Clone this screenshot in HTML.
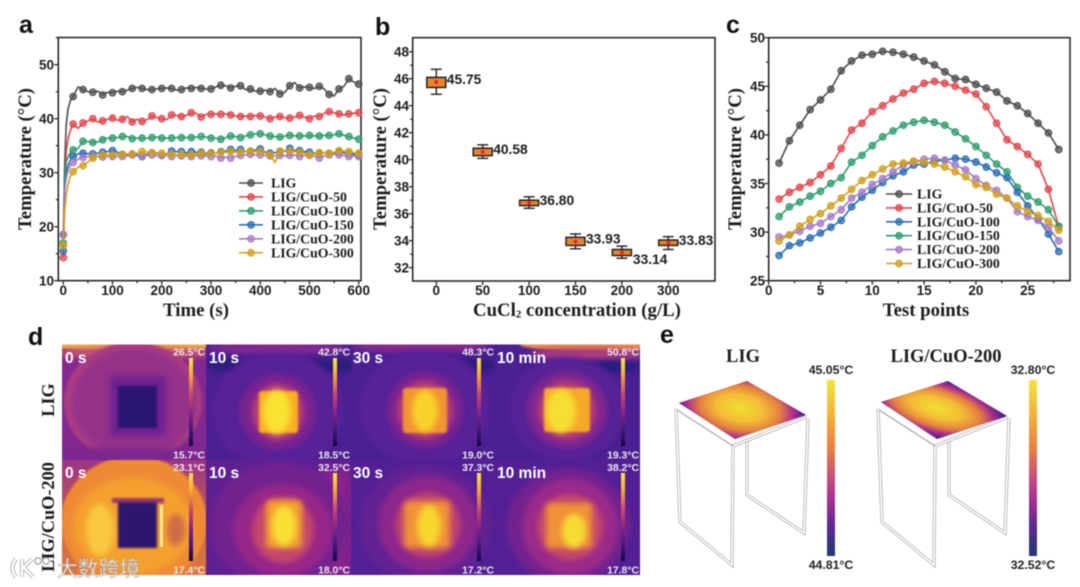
<!DOCTYPE html>
<html lang="en">
<head>
<meta charset="utf-8">
<title>Thermal performance of LIG and LIG/CuO heaters</title>
<style>
html,body{margin:0;padding:0;background:#fff;width:1080px;height:587px;overflow:hidden}
svg{display:block;filter:blur(0.5px)}
.serif{font-family:"Liberation Serif",serif;font-weight:bold;fill:#1c1c1c}
.sans{font-family:"Liberation Sans",sans-serif;font-weight:bold;fill:#1c1c1c}
.letter{font-family:"Liberation Sans",sans-serif;font-weight:bold;font-size:25px;fill:#111}
.time{font-family:"Liberation Sans",sans-serif;font-weight:bold;font-size:15.5px;fill:#fff}
.scale{font-family:"Liberation Sans",sans-serif;font-weight:bold;font-size:10.4px;fill:#efe6ee;text-anchor:end}
.bar-e{font-family:"Liberation Sans",sans-serif;font-size:12.3px;fill:#222;text-anchor:middle;font-weight:bold}
.frame-o{fill:none;stroke:#8c8c8c;stroke-width:3}
.frame-i{fill:none;stroke:#fff;stroke-width:1.9}
</style>
</head>
<body>
<svg id="fig" xmlns="http://www.w3.org/2000/svg" width="1080" height="587" viewBox="0 0 1080 587">
<defs>
<filter id="b1" x="-30%" y="-30%" width="160%" height="160%"><feGaussianBlur stdDeviation="1"/></filter>
<filter id="b3" x="-40%" y="-40%" width="180%" height="180%"><feGaussianBlur stdDeviation="3"/></filter>
<filter id="b6" x="-50%" y="-50%" width="200%" height="200%"><feGaussianBlur stdDeviation="6"/></filter>
<linearGradient id="inferno" x1="0" y1="0" x2="0" y2="1">
<stop offset="0" stop-color="#f8ea48"/><stop offset=".2" stop-color="#f5a734"/><stop offset=".42" stop-color="#c9486a"/><stop offset=".62" stop-color="#8a2484"/><stop offset=".82" stop-color="#41187a"/><stop offset="1" stop-color="#120b40"/>
</linearGradient>
<linearGradient id="plasma" x1="0" y1="0" x2="0" y2="1">
<stop offset="0" stop-color="#eee63c"/><stop offset=".2" stop-color="#f4b23a"/><stop offset=".38" stop-color="#e9813f"/><stop offset=".55" stop-color="#c8507a"/><stop offset=".68" stop-color="#a42f94"/><stop offset=".85" stop-color="#552a90"/><stop offset="1" stop-color="#1c3a6e"/>
</linearGradient>
<radialGradient id="heat">
<stop offset="0" stop-color="#efe030"/><stop offset=".36" stop-color="#f3bd36"/><stop offset=".62" stop-color="#e5803f"/><stop offset=".82" stop-color="#a92d8e"/><stop offset="1" stop-color="#4a1f8a"/>
</radialGradient>
<linearGradient id="cell5bg" x1="0" y1="0" x2="0" y2="1">
<stop offset="0" stop-color="#9a3486"/><stop offset=".55" stop-color="#c8604c"/><stop offset="1" stop-color="#dd7a3c"/>
</linearGradient>
<clipPath id="c1"><rect x="62" y="344.5" width="144" height="115.5"/></clipPath>
<clipPath id="c2"><rect x="206" y="344.5" width="145.5" height="115.5"/></clipPath>
<clipPath id="c3"><rect x="351.5" y="344.5" width="143.5" height="115.5"/></clipPath>
<clipPath id="c4"><rect x="495" y="344.5" width="145" height="115.5"/></clipPath>
<clipPath id="c5"><rect x="62" y="460" width="144" height="115"/></clipPath>
<clipPath id="c6"><rect x="206" y="460" width="145.5" height="115"/></clipPath>
<clipPath id="c7"><rect x="351.5" y="460" width="143.5" height="115"/></clipPath>
<clipPath id="c8"><rect x="495" y="460" width="145" height="115"/></clipPath>
<clipPath id="plate1"><polygon points="679,403 747,381 806,415 735,439"/></clipPath>
<clipPath id="plate2"><polygon points="881,402 948,381 1007,416 937,439"/></clipPath>
</defs>

<text class="letter" x="19" y="33">a</text>
<text class="letter" x="375" y="35">b</text>
<text class="letter" x="726" y="33">c</text>
<text class="letter" x="28" y="345">d</text>
<text class="letter" x="660" y="343">e</text>

<g id="panelA"></g>
<g id="panelB"></g>
<g id="panelC"></g>

<g>
<g clip-path="url(#c1)">
<rect x="62" y="344" width="144" height="116" fill="#83288e"/>
<ellipse cx="134" cy="345" rx="90" ry="6" fill="#f4b044" filter="url(#b1)"/>
<ellipse cx="134" cy="353" rx="80" ry="6" fill="#c4566e" filter="url(#b3)"/>
<ellipse cx="133" cy="402" rx="69" ry="60" fill="#aa3c82" filter="url(#b1)"/>
<ellipse cx="134" cy="403" rx="62" ry="54" fill="#94308a" filter="url(#b3)"/>
<rect x="110" y="376" width="56" height="60" fill="#6e2490" filter="url(#b3)"/>
<rect x="118" y="386" width="39" height="42" fill="#2c1670" filter="url(#b1)"/>
<rect x="62" y="448" width="144" height="14" fill="#7b2890" filter="url(#b3)"/>
</g>
<g clip-path="url(#c2)">
<rect x="206" y="344" width="146" height="116" fill="#4a2092"/>
<ellipse cx="225" cy="365" rx="18" ry="6" fill="#2a1a7c" filter="url(#b3)"/>
<ellipse cx="335" cy="366" rx="25" ry="7" fill="#2a1a7c" filter="url(#b3)"/>
<ellipse cx="278" cy="348" rx="70" ry="6" fill="#842a90" filter="url(#b3)"/>
<ellipse cx="278" cy="411" rx="66" ry="58" fill="#572096" filter="url(#b3)"/>
<ellipse cx="278" cy="412" rx="38" ry="38" fill="#7c248f" filter="url(#b3)"/>
<ellipse cx="278" cy="412" rx="26" ry="28" fill="#b83c74" filter="url(#b3)"/>
<rect x="259" y="391" width="39" height="42" rx="3" fill="#f8ae22" filter="url(#b1)"/>
<ellipse cx="277" cy="412" rx="14" ry="22" fill="#f8e232" filter="url(#b3)"/>
</g>
<g clip-path="url(#c3)">
<rect x="351" y="344" width="144" height="116" fill="#4a2092"/>
<ellipse cx="470" cy="366" rx="26" ry="7" fill="#2a1a7c" filter="url(#b3)"/>
<ellipse cx="420" cy="346" rx="70" ry="6" fill="#8c2a8c" filter="url(#b3)"/>
<ellipse cx="425" cy="408" rx="66" ry="58" fill="#572096" filter="url(#b3)"/>
<ellipse cx="425" cy="410" rx="38" ry="38" fill="#7c248f" filter="url(#b3)"/>
<ellipse cx="425" cy="410" rx="28" ry="29" fill="#b83c74" filter="url(#b3)"/>
<rect x="403" y="388" width="44" height="45" rx="3" fill="#f29432" filter="url(#b1)"/>
<ellipse cx="425" cy="411" rx="13" ry="21" fill="#f8d22a" filter="url(#b3)"/>
</g>
<g clip-path="url(#c4)">
<rect x="495" y="344" width="145" height="116" fill="#4a2092"/>
<ellipse cx="600" cy="345" rx="80" ry="6" fill="#ee8c48" filter="url(#b1)"/>
<ellipse cx="590" cy="354" rx="60" ry="6" fill="#b03c80" filter="url(#b3)"/>
<ellipse cx="610" cy="367" rx="30" ry="6" fill="#271a7c" filter="url(#b3)"/>
<ellipse cx="567" cy="409" rx="58" ry="52" fill="#572096" filter="url(#b3)"/>
<ellipse cx="567" cy="410" rx="40" ry="38" fill="#82268f" filter="url(#b3)"/>
<ellipse cx="567" cy="410" rx="29" ry="29" fill="#b83c74" filter="url(#b3)"/>
<rect x="544" y="388" width="46" height="44" rx="3" fill="#f6a82a" filter="url(#b1)"/>
<ellipse cx="561" cy="411" rx="15" ry="22" fill="#f6de30" filter="url(#b3)"/>
</g>
<g clip-path="url(#c5)">
<rect x="62" y="460" width="144" height="115" fill="url(#cell5bg)"/>
<ellipse cx="134" cy="522" rx="73" ry="66" fill="#ee8a34" filter="url(#b1)"/>
<ellipse cx="133" cy="526" rx="60" ry="48" fill="#f4a02e" filter="url(#b3)"/>
<ellipse cx="100" cy="530" rx="14" ry="26" fill="#f9c840" filter="url(#b3)"/>
<rect x="112" y="498" width="52" height="5" fill="#9c3a6a" filter="url(#b1)"/>
<rect x="118" y="502" width="39" height="46" fill="#2d1670" filter="url(#b1)"/>
<rect x="160" y="505" width="3" height="42" fill="#ffe98a"/>
<ellipse cx="176" cy="530" rx="9" ry="16" fill="#d06c4a" filter="url(#b3)"/>
</g>
<g clip-path="url(#c6)">
<rect x="206" y="460" width="146" height="115" fill="#5f2092"/>
<rect x="320" y="470" width="32" height="105" fill="#8c248c" filter="url(#b6)"/>
<ellipse cx="280" cy="525" rx="70" ry="62" fill="#72228f" filter="url(#b3)"/>
<ellipse cx="283" cy="530" rx="50" ry="46" fill="#962888" filter="url(#b3)"/>
<ellipse cx="283" cy="530" rx="31" ry="33" fill="#c4466c" filter="url(#b3)"/>
<rect x="266" y="500" width="36" height="48" rx="5" fill="#f4a02e" filter="url(#b3)"/>
<ellipse cx="284" cy="526" rx="12" ry="20" fill="#f8e034" filter="url(#b3)"/>
</g>
<g clip-path="url(#c7)">
<rect x="351" y="460" width="144" height="115" fill="#522094"/>
<ellipse cx="425" cy="525" rx="66" ry="60" fill="#622192" filter="url(#b3)"/>
<ellipse cx="428" cy="524" rx="50" ry="48" fill="#8c268c" filter="url(#b3)"/>
<ellipse cx="428" cy="525" rx="33" ry="33" fill="#bc4270" filter="url(#b3)"/>
<rect x="404" y="501" width="46" height="47" rx="4" fill="#f09238" filter="url(#b3)"/>
<ellipse cx="429" cy="526" rx="12" ry="21" fill="#f8d62e" filter="url(#b3)"/>
</g>
<g clip-path="url(#c8)">
<rect x="495" y="460" width="145" height="115" fill="#522094"/>
<ellipse cx="568" cy="526" rx="62" ry="58" fill="#72238f" filter="url(#b3)"/>
<ellipse cx="570" cy="527" rx="48" ry="48" fill="#9a2a8a" filter="url(#b3)"/>
<ellipse cx="570" cy="527" rx="33" ry="33" fill="#c4466c" filter="url(#b3)"/>
<rect x="546" y="503" width="46" height="45" rx="4" fill="#f09238" filter="url(#b3)"/>
<ellipse cx="574" cy="531" rx="12" ry="17" fill="#f6dc30" filter="url(#b3)"/>
</g>

<rect x="189" y="358" width="4" height="88" fill="url(#inferno)"/>
<rect x="333" y="358" width="4" height="88" fill="url(#inferno)"/>
<rect x="477" y="358" width="4" height="88" fill="url(#inferno)"/>
<rect x="621" y="358" width="4" height="88" fill="url(#inferno)"/>
<rect x="189" y="473" width="4" height="88" fill="url(#inferno)"/>
<rect x="333" y="473" width="4" height="88" fill="url(#inferno)"/>
<rect x="477" y="473" width="4" height="88" fill="url(#inferno)"/>
<rect x="621" y="473" width="4" height="88" fill="url(#inferno)"/>

<text class="time" x="65" y="363">0 s</text>
<text class="time" x="209" y="363">10 s</text>
<text class="time" x="353" y="363">30 s</text>
<text class="time" x="497" y="363">10 min</text>
<text class="time" x="65" y="478">0 s</text>
<text class="time" x="209" y="478">10 s</text>
<text class="time" x="353" y="478">30 s</text>
<text class="time" x="497" y="478">10 min</text>

<text class="scale" x="205" y="355.5">26.5°C</text>
<text class="scale" x="350" y="355.5">42.8°C</text>
<text class="scale" x="494" y="355.5">48.3°C</text>
<text class="scale" x="639" y="355.5">50.8°C</text>
<text class="scale" x="205" y="458.5">15.7°C</text>
<text class="scale" x="350" y="458.5">18.5°C</text>
<text class="scale" x="494" y="458.5">19.0°C</text>
<text class="scale" x="639" y="458.5">19.3°C</text>
<text class="scale" x="205" y="471">23.1°C</text>
<text class="scale" x="350" y="471">32.5°C</text>
<text class="scale" x="494" y="471">37.3°C</text>
<text class="scale" x="639" y="471">38.2°C</text>
<text class="scale" x="205" y="573.5">17.4°C</text>
<text class="scale" x="350" y="573.5">18.0°C</text>
<text class="scale" x="494" y="573.5">17.2°C</text>
<text class="scale" x="639" y="573.5">17.8°C</text>

<text class="serif" font-size="18.3" text-anchor="middle" transform="translate(54,400) rotate(-90)">LIG</text>
<text class="serif" font-size="18.3" text-anchor="middle" transform="translate(54,517) rotate(-90)">LIG/CuO-200</text>
</g>

<g>
<path d="M16 559 Q9 568 16 577 M22 559 L22 577 M22 569 L32 559 M24 568 L33 577" fill="none" stroke="#9a9a9a" stroke-width="4"/>
<path d="M16 559 Q9 568 16 577 M22 559 L22 577 M22 569 L32 559 M24 568 L33 577" fill="none" stroke="#fff" stroke-width="2.6"/>
<circle cx="38" cy="561" r="3.2" fill="none" stroke="#aaa" stroke-width="1.4"/>
<circle cx="46" cy="561" r="3.2" fill="none" stroke="#aaa" stroke-width="1.4"/>
<text x="57" y="576" font-size="20.8" font-family="'Liberation Sans','Noto Sans CJK SC',sans-serif" fill="#fff" fill-opacity=".88" stroke="#999" stroke-width=".5">大数跨境</text>
</g>

<g>
<text class="serif" font-size="18.5" x="743" y="362" text-anchor="middle">LIG</text>
<text class="serif" font-size="18.5" x="946" y="362" text-anchor="middle">LIG/CuO-200</text>
<g>
<polyline class="frame-o" points="747,440 747,495 804,533 808,418"/>
<polyline class="frame-i" points="747,440 747,495 804,533 808,418"/>
<polyline class="frame-o" points="676,408 680,522 732,565 733,446 806,417"/>
<polyline class="frame-i" points="676,408 680,522 732,565 733,446 806,417"/>
<polyline points="677,410 733,446" fill="none" stroke="#8c8c8c" stroke-width="1"/>
</g>
<g clip-path="url(#plate1)">
<rect x="670" y="375" width="145" height="70" fill="#44208a"/>
<ellipse cx="740" cy="408" rx="66" ry="36" transform="rotate(10 740 408)" fill="url(#heat)"/>
</g>
<g>
<polyline class="frame-o" points="949,440 949,495 1005,533 1009,418"/>
<polyline class="frame-i" points="949,440 949,495 1005,533 1009,418"/>
<polyline class="frame-o" points="878,408 882,522 934,565 935,446 1008,417"/>
<polyline class="frame-i" points="878,408 882,522 934,565 935,446 1008,417"/>
<polyline points="879,410 935,446" fill="none" stroke="#8c8c8c" stroke-width="1"/>
</g>
<g clip-path="url(#plate2)">
<rect x="872" y="375" width="145" height="70" fill="#44208a"/>
<ellipse cx="937" cy="408" rx="72" ry="29" transform="rotate(16 937 408)" fill="url(#heat)"/>
</g>
<rect x="827" y="380" width="8" height="176" fill="url(#plasma)"/>
<rect x="1029" y="380" width="8" height="176" fill="url(#plasma)"/>
<text class="bar-e" x="831" y="374">45.05°C</text>
<text class="bar-e" x="831" y="569">44.81°C</text>
<text class="bar-e" x="1033" y="374">32.80°C</text>
<text class="bar-e" x="1033" y="569">32.52°C</text>
</g>
</svg>

<script>
/* ---------- panel a data ---------- */
const timeA = [0,3,6,10,15,
  20,30,40,50,60,70,80,90,100,110,
  120,130,140,150,160,170,180,190,200,210,
  220,230,240,250,260,270,280,290,300,310,
  320,330,340,350,360,370,380,390,400,410,
  420,430,440,450,460,470,480,490,500,510,
  520,530,540,550,560,570,580,590,600];
const tempA_LIG = [18.5,32,39,42,43.5,
  44.1,45.9,45.4,45,44.9,45.1,44.4,44.9,44.8,45.1,
  45,45.3,45.6,45.8,45.6,45.4,45.4,45.5,45.6,45.7,
  45.6,45.3,45.4,45.7,45.6,45.8,45.6,45.5,45.5,45.9,
  46.2,46.1,45.7,46,46.1,45.4,45.5,45.1,45.1,45.3,
  45,45.6,44.6,44.9,46.1,46.7,45.7,45.9,45.8,45.6,
  46,45.5,44.5,44.2,45.5,46,47.4,46.8,46.4];
const tempA_50 = [14.3,28,34,36.5,38,
  39,38.2,39.2,39.6,40,39.4,39.6,39.9,40.1,39.7,
  39.9,40.4,39.4,39.9,39.5,39.8,40.5,40.2,40,39.8,
  40.7,40.6,40.4,40.6,41.1,41,40.3,40.8,40.8,40.9,
  40.8,40.9,40.7,40.5,40.4,40.5,40.4,40.6,40.5,40.3,
  40,40.3,40.4,40.2,40.1,40.3,40.6,40.3,40,40.5,
  40.4,41,41.3,41.1,40.9,40.7,40.9,41,41.1];
const tempA_100 = [17,29,32,33,33.8,
  34.2,34.5,35.8,35.8,35.6,35.7,36.1,36.4,36.4,36.5,
  36.7,36.7,36.3,36.4,36.4,36.4,36.5,36.6,36.4,36.4,
  36.4,36.5,36.5,36.5,36.5,36.6,36.7,36.6,36.4,36.4,
  36.2,36.5,36.8,36.7,36.5,36.8,37,37.2,37.2,37,
  36.8,36.7,36.6,36.8,36.9,36.8,36.8,36.8,36.9,36.8,
  36.8,36.9,36.9,37,37.2,36.9,36.7,36.4,36.2];
const tempA_150 = [15.5,27,30,31.5,32.5,
  33,33.5,33.6,33.5,33.5,33.6,33.8,33.9,34.1,33.8,
  33.4,33.4,33.4,33.3,33,33.4,33.7,33.6,33.2,33.5,
  34,33.9,33.9,33.7,33.9,33.8,33.8,33.6,33.7,33.6,
  33.9,34,34.3,34.1,34.3,33.9,34,34.2,34.4,33.8,
  33.6,33.7,33.9,34,34.5,34.1,34.1,33.9,33.8,33.6,
  33.6,33.7,33.6,33.7,33.8,33.7,33.5,33.4,33.3];
const tempA_200 = [18.6,27,29,30.5,31.5,
  31.9,32.5,32.8,33,33.1,33,32.9,33,33,33,
  33,33.1,33.3,33.1,33.1,33.2,33.3,33.1,33.2,33.2,
  33,33.2,33.1,33.1,33,33.2,33.1,33.1,33,33.1,
  32.7,32.9,32.7,33,33.2,33.3,33.4,33.3,33.3,33.2,
  33.1,33.1,33.2,33.1,33.2,33.3,33,33.2,33.2,33.1,
  32.7,33.1,33.3,33.4,33.3,33.2,33,33.1,33];
const tempA_300 = [16.5,23,26,28,29.5,
  30.2,31,31.3,32,32.7,33.1,33.3,33.3,33.3,33.4,
  33.4,33.3,33.5,33.6,33.9,33.8,33.7,33.7,33.6,33.5,
  33.4,33.3,33.4,33.4,33.3,33.4,33.6,33.4,33.6,33.6,
  33.8,33.8,33.9,33.8,33.8,33.9,34,33.9,33.9,33.7,
  33.3,31.9,34,33.9,34,33.9,33.8,33.6,33.3,33.5,
  33.7,33.7,33.6,33.8,34.1,34,33.9,33.7,33.6];
const xTicksA = [0,100,200,300,400,500,600];
const yTicksA = [10,20,30,40,50];
const legendA = ['LIG','LIG/CuO-50','LIG/CuO-100','LIG/CuO-150','LIG/CuO-200','LIG/CuO-300'];

/* ---------- panel b data ---------- */
const categoriesB = [0,50,100,150,200,300];
const meanB = [45.75,40.58,36.80,33.93,33.14,33.83];
const whiskerHighB = [46.7,41.1,37.25,34.5,33.6,34.3];
const whiskerLowB = [44.85,40.1,36.4,33.4,32.7,33.35];
const boxHighB = [46.1,40.85,37.0,34.25,33.35,34.05];
const boxLowB = [45.35,40.3,36.6,33.65,32.9,33.65];
const yTicksB = [32,34,36,38,40,42,44,46,48];

/* ---------- panel c data ---------- */
const pointsC = [1,2,3,4,5,6,7,8,9,10,11,12,13,14,15,16,17,18,19,20,21,22,23,24,25,26,27,28];
const tempC_LIG = [37.1,39.4,41,42.6,43.6,44.7,46.6,47.6,48.2,48.3,48.6,48.5,48.3,48,47.6,47.2,46.5,45.8,45.7,45.2,44.8,44.4,43.5,43,42.2,41.2,40.2,38.5];
const tempC_50 = [33.4,34.1,34.6,35.1,35.9,36.8,38.6,40.5,41.2,42.4,43,43.7,44.3,44.7,45.3,45.5,45.3,45,44.6,44.2,42.9,41.2,39.5,38.8,38,37,34.4,30.5];
const tempC_100 = [27.6,28.6,28.9,29.4,29.9,30.5,31.2,32.6,33.6,34.3,35.1,35.8,36.2,36.9,37,37.3,37.4,37.6,37.5,37.2,36.7,36.1,35.6,34.1,32.7,31.4,29.8,28];
const tempC_150 = [31.6,32.6,33.1,33.7,34.2,35,35.6,37.2,37.9,38.9,39.8,40.4,41,41.3,41.5,41.3,41,40.3,39.6,38.8,37.9,37,36.2,34.6,33.7,33.1,32.3,30.6];
const tempC_200 = [29.5,29.7,30.1,30.6,30.9,31.6,32.3,33.5,34.1,34.9,35.5,36.2,36.9,37.2,37.5,37.6,37.4,36.9,36.4,35.5,34.8,34.3,33.5,32.1,31.6,31.2,30.5,29.1];
const tempC_300 = [29.1,29.7,30.6,31.3,31.9,32.7,33.5,34.4,35.3,35.9,36.5,37,37.1,37.3,37.2,37,36.7,36.2,35.7,34.9,34.6,33.9,33.5,32.7,32.1,31.7,31.1,30.2];
const xTicksC = [0,5,10,15,20,25];
const yTicksC = [25,30,35,40,45,50];

/* ---------- drawing ---------- */
const NS = 'http://www.w3.org/2000/svg';
const GRAY = '#4d4d4d', RED = '#e0474c', GREEN = '#2f9e6e', BLUE = '#2a6cb4', PURPLE = '#a57cc6', GOLD = '#d09f1e';
const INK = '#2a2a2a';

function mk(parent, tag, attrs, txt) {
  const el = document.createElementNS(NS, tag);
  for (const k in attrs) el.setAttribute(k, attrs[k]);
  if (txt !== undefined) el.textContent = txt;
  parent.appendChild(el);
  return el;
}
function scale(d0, d1, r0, r1) {
  return v => r0 + (v - d0) * (r1 - r0) / (d1 - d0);
}
function drawFrame(g, x0, y0, x1, y1, key) {
  const el = mk(g, 'rect', {x:x0, y:y0, width:x1-x0, height:y1-y0, fill:'none', stroke:INK, 'stroke-width':1.6});
  
  
}
function drawXTick(g, x, yBase, len, key) {
  const el = mk(g, 'line', {x1:x, x2:x, y1:yBase, y2:yBase+len, stroke:INK, 'stroke-width':1.3});
  
  
}
function drawYTick(g, y, xBase, len, key) {
  const el = mk(g, 'line', {x1:xBase-len, x2:xBase, y1:y, y2:y, stroke:INK, 'stroke-width':1.3});
  
  
}
function drawXLabel(g, x, y, str, key) {
  const el = mk(g, 'text', {x:x, y:y, 'text-anchor':'middle', 'font-size':13.5, class:'sans'}, str);
  
  
}
function drawYLabel(g, x, y, str, key) {
  const el = mk(g, 'text', {x:x, y:y+4.8, 'text-anchor':'end', 'font-size':13.5, class:'sans'}, str);
  
  
}
function drawXTitle(g, x, str, key) {
  const el = mk(g, 'text', {x:x, y:316, 'text-anchor':'middle', 'font-size':18.8, class:'serif'}, str);
  
  
  return el;
}
function drawYTitle(g, x, y, key) {
  const el = mk(g, 'text', {transform:'translate('+x+','+y+') rotate(-90)', 'text-anchor':'middle', 'font-size':18.7, class:'serif'}, 'Temperature (°C)');
  
  
}
function drawSeries(g, xs, ys, sx, sy, color, name, isMarked) {
  const grp = mk(g, 'g', {});
  
  
  const pts = xs.map((x, i) => sx(x).toFixed(2) + ',' + sy(ys[i]).toFixed(2)).join(' ');
  const line = mk(grp, 'polyline', {points:pts, fill:'none', stroke:color, 'stroke-width':1.6, 'stroke-linejoin':'round'});
  
  
  xs.forEach((x, i) => {
    if (!isMarked(x)) return;
    const m = mk(grp, 'circle', {cx:sx(x), cy:sy(ys[i]), r:3.3, fill:color, 'fill-opacity':0.72, stroke:color, 'stroke-width':1.1});
    
    
  });
}
function drawLegendEntry(g, x0, x1, tx, y, color, label, key) {
  const grp = mk(g, 'g', {});
  
  
  const l = mk(grp, 'line', {x1:x0, x2:x1, y1:y, y2:y, stroke:color, 'stroke-width':1.6});
  
  
  const c = mk(grp, 'circle', {cx:(x0+x1)/2, cy:y, r:3.3, fill:color, 'fill-opacity':0.72, stroke:color, 'stroke-width':1.1});
  
  
  const t = mk(grp, 'text', {x:tx, y:y+4.5, 'font-size':13.8, class:'serif'}, label);
  
  
}

/* panel a */
(function () {
  const g = document.getElementById('panelA');
  const x0 = 58.3, x1 = 361, y0 = 37.5, y1 = 280.7;
  const sx = scale(0, 600, 63.3, 358.7);
  const sy = scale(10, 50, 280.7, 64.7);
  drawFrame(g, x0, y0, x1, y1, 'panel-a');
  xTicksA.forEach(t => {
    drawXTick(g, sx(t), y1, 4, 'panel-a');
    drawXLabel(g, sx(t), 295, String(t), 'panel-a');
    if (t < 600) drawXTick(g, sx(t + 50), y1, 2.5, 'panel-a');
  });
  yTicksA.forEach(t => {
    drawYTick(g, sy(t), x0, 4, 'panel-a');
    drawYLabel(g, 54, sy(t), String(t), 'panel-a');
    drawYTick(g, sy(t + 5), x0, 2.5, 'panel-a');
  });
  drawXTitle(g, 196, 'Time (s)', 'panel-a');
  drawYTitle(g, 31, 159, 'panel-a');
  const isMarked = t => t % 20 === 0;
  drawSeries(g, timeA, tempA_LIG, sx, sy, GRAY, 'a-lig', isMarked);
  drawSeries(g, timeA, tempA_50, sx, sy, RED, 'a-lig-cuo-50', isMarked);
  drawSeries(g, timeA, tempA_100, sx, sy, GREEN, 'a-lig-cuo-100', isMarked);
  drawSeries(g, timeA, tempA_150, sx, sy, BLUE, 'a-lig-cuo-150', isMarked);
  drawSeries(g, timeA, tempA_200, sx, sy, PURPLE, 'a-lig-cuo-200', isMarked);
  drawSeries(g, timeA, tempA_300, sx, sy, GOLD, 'a-lig-cuo-300', isMarked);
  const colors = [GRAY, RED, GREEN, BLUE, PURPLE, GOLD];
  legendA.forEach((name, i) => drawLegendEntry(g, 239, 263, 271, 183 + i * 13.95, colors[i], name, 'panel-a'));
})();

/* panel b */
(function () {
  const g = document.getElementById('panelB');
  const x0 = 412.7, x1 = 715, y0 = 37.7, y1 = 281;
  const sx = scale(0, 5, 436.3, 668.3);
  const sy = scale(32, 48, 267.7, 51.7);
  drawFrame(g, x0, y0, x1, y1, 'panel-b');
  yTicksB.forEach(t => {
    drawYTick(g, sy(t), x0, 4, 'panel-b');
    drawYLabel(g, 409, sy(t), String(t), 'panel-b');
    if (t < 48) drawYTick(g, sy(t + 1), x0, 2.5, 'panel-b');
  });
  categoriesB.forEach((c, i) => {
    const cx = sx(i);
    drawXTick(g, cx, y1, 4, 'panel-b');
    drawXLabel(g, cx, 295, String(c), 'panel-b');
    const box = mk(g, 'g', {});
    
    
    const whisk = mk(box, 'line', {x1:cx, x2:cx, y1:sy(whiskerHighB[i]), y2:sy(whiskerLowB[i]), stroke:'#222', 'stroke-width':1.4});
    
    
    [whiskerHighB[i], whiskerLowB[i]].forEach(v => {
      const cap = mk(box, 'line', {x1:cx-5.5, x2:cx+5.5, y1:sy(v), y2:sy(v), stroke:'#222', 'stroke-width':1.4});
      
      
    });
    const top = sy(boxHighB[i]), bot = sy(boxLowB[i]);
    const rect = mk(box, 'rect', {x:cx-9.5, y:top, width:19, height:bot-top, fill:'#e8842c', stroke:'#222', 'stroke-width':1.5});
    
    
    const dot = mk(box, 'circle', {cx:cx, cy:sy(meanB[i]), r:1.9, fill:'#e8202a'});
    
    
    const below = c === 200;
    const lab = mk(g, 'text', {x:cx + (below ? 11 : 10.5), y:sy(meanB[i]) + (below ? 11.5 : 2), 'font-size':13.8, class:'sans'}, meanB[i].toFixed(2));
    
    
  });
  const title = drawXTitle(g, 577, 'CuCl', 'panel-b');
  const sub = mk(title, 'tspan', {'font-size':11, dy:1.5}, '2');
  
  
  const rest = mk(title, 'tspan', {dy:-1.5}, ' concentration (g/L)');
  
  
  drawYTitle(g, 386, 159, 'panel-b');
})();

/* panel c */
(function () {
  const g = document.getElementById('panelC');
  const x0 = 768.7, x1 = 1070, y0 = 37.7, y1 = 280.7;
  const sx = scale(0, 25, 768.7, 1027.7);
  const sy = scale(25, 50, 280.7, 37.7);
  drawFrame(g, x0, y0, x1, y1, 'panel-c');
  xTicksC.forEach(t => {
    drawXTick(g, sx(t), y1, 4, 'panel-c');
    drawXLabel(g, sx(t), 295, String(t), 'panel-c');
    drawXTick(g, sx(t + 2.5), y1, 2.5, 'panel-c');
  });
  yTicksC.forEach(t => {
    drawYTick(g, sy(t), x0, 4, 'panel-c');
    drawYLabel(g, 765, sy(t), String(t), 'panel-c');
    if (t < 50) drawYTick(g, sy(t + 2.5), x0, 2.5, 'panel-c');
  });
  drawXTitle(g, 926, 'Test points', 'panel-c');
  drawYTitle(g, 741, 159, 'panel-c');
  const all = () => true;
  drawSeries(g, pointsC, tempC_LIG, sx, sy, GRAY, 'c-lig', all);
  drawSeries(g, pointsC, tempC_50, sx, sy, RED, 'c-lig-cuo-50', all);
  drawSeries(g, pointsC, tempC_150, sx, sy, GREEN, 'c-lig-cuo-150', all);
  drawSeries(g, pointsC, tempC_100, sx, sy, BLUE, 'c-lig-cuo-100', all);
  drawSeries(g, pointsC, tempC_200, sx, sy, PURPLE, 'c-lig-cuo-200', all);
  drawSeries(g, pointsC, tempC_300, sx, sy, GOLD, 'c-lig-cuo-300', all);
  const colors = [GRAY, RED, BLUE, GREEN, PURPLE, GOLD];
  legendA.forEach((name, i) => drawLegendEntry(g, 886, 912, 917, 194 + i * 13.9, colors[i], name, 'panel-c'));
})();
</script>
</body>
</html>
